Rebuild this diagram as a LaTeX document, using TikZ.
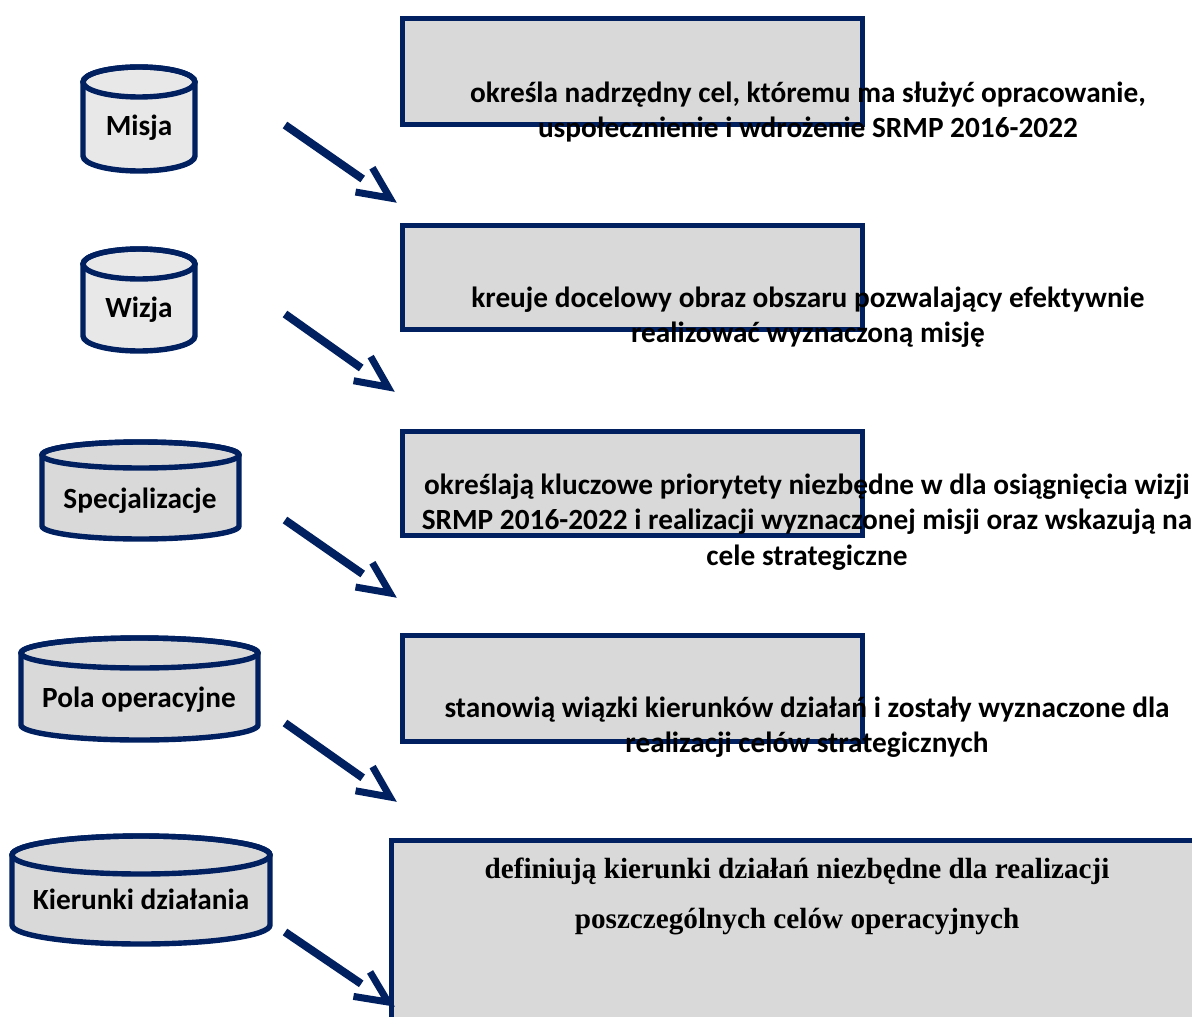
\documentclass[tikz,border=0pt]{standalone}
\usepackage{fontspec}
\setmainfont{Carlito}
\newfontfamily\timesfont{Liberation Serif}
\usetikzlibrary{calc}
\definecolor{granat}{HTML}{002060}
\definecolor{szary}{HTML}{D9D9D9}
\definecolor{jasny}{HTML}{E8E8E8}
% walec: srodek x, gora, dol, pol szerokosci, promien y, wypelnienie
\newcommand{\beczka}[6]{%
\filldraw[beczka, fill=#6] (#1-#4,#2-#5) -- (#1-#4,#3+#5)
  arc[start angle=180, end angle=360, x radius=#4, y radius=#5]
  -- (#1+#4,#2-#5) arc[start angle=0, end angle=180, x radius=#4, y radius=#5] -- cycle;
\draw[beczka] (#1,#2-#5) ellipse[x radius=#4, y radius=#5];}
% strzalka z oddzielnym grotem
\newcommand{\strzalka}[2]{%
\draw[trzon] (#1) -- ($(#1)!0.74!(#2)$);
\draw[grot] ($(#2)!17.5pt!25:(#1)$) -- (#2) -- ($(#2)!17.5pt!-25:(#1)$);}

\begin{document}
\begin{tikzpicture}[x=0.5pt, y=0.5pt,
  beczka/.style={draw=granat, line width=2.7pt},
  ramka/.style={draw=granat, fill=szary, line width=2.5pt, minimum width=230pt, minimum height=53pt, anchor=north west, inner sep=0pt},
  opis/.style={font=\bfseries\fontsize{14.65}{17.8}\selectfont, align=center, inner sep=0pt},
  trzon/.style={granat, line width=4pt},
  grot/.style={granat, line width=3.5pt, line join=miter}]
\useasboundingbox (0,0) rectangle (1192,-1016);
\clip (0,0) rectangle (1192,-1016);

% walce po lewej
\beczka{139}{-67}{-171}{56}{15}{jasny}
\beczka{139}{-249}{-351}{56}{15}{jasny}
\beczka{140.5}{-442}{-539}{98.5}{13}{szary}
\beczka{139.5}{-638}{-740}{118.5}{15}{szary}
\beczka{141}{-836}{-944}{129}{19}{szary}
\node[opis] (misja) at (139,-128) {Misja};
\node[opis] (wizja) at (139,-310) {Wizja};
\node[opis] (spec) at (140,-501) {Specjalizacje};
\node[opis] (pola) at (139,-700) {Pola operacyjne};
\node[opis] (kier) at (141,-899) {Kierunki działania};

% ramki
\node[ramka] (r1) at (400,-16) {};
\node[ramka, minimum height=52pt] (r2) at (400,-223) {};
\node[ramka, minimum height=52pt] (r3) at (400,-429) {};
\node[ramka] (r4) at (400,-633) {};
\node[ramka, minimum width=420pt, minimum height=100pt] (r5) at (389,-838) {};

% opisy
\node[opis] (t1) at (808,-112) {określa nadrzędny cel, któremu ma służyć opracowanie,\\uspołecznienie i wdrożenie SRMP 2016-2022};
\node[opis] (t2) at (808,-317) {kreuje docelowy obraz obszaru pozwalający efektywnie\\realizować wyznaczoną misję};
\node[opis] (t3) at (807,-522) {określają kluczowe priorytety niezbędne w dla osiągnięcia wizji\\SRMP 2016-2022 i realizacji wyznaczonej misji oraz wskazują na\\cele strategiczne};
\node[opis] (t4) at (807,-727) {stanowią wiązki kierunków działań i zostały wyznaczone dla\\realizacji celów strategicznych};
\node[opis, font=\timesfont\bfseries\fontsize{14.6}{25}\selectfont] (t5) at (797,-896) {definiują kierunki działań niezbędne dla realizacji\\poszczególnych celów operacyjnych};

% strzalki
\coordinate (a1) at (285,-125); \coordinate (b1) at (390,-198);
\coordinate (a2) at (285,-314); \coordinate (b2) at (388,-387);
\coordinate (a3) at (285,-520); \coordinate (b3) at (390,-593);
\coordinate (a4) at (285,-723); \coordinate (b4) at (390,-797);
\coordinate (a5) at (285,-932); \coordinate (b5) at (388,-1002);
\strzalka{a1}{b1}
\strzalka{a2}{b2}
\strzalka{a3}{b3}
\strzalka{a4}{b4}
\strzalka{a5}{b5}
\end{tikzpicture}
\end{document}
